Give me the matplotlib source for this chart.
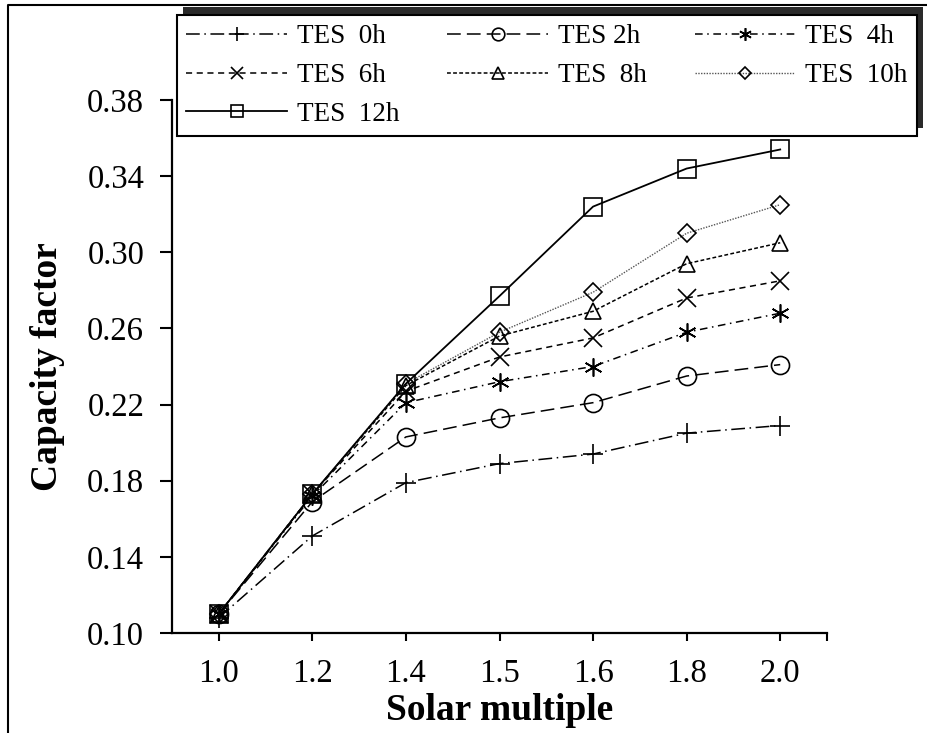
import numpy as np
import matplotlib
matplotlib.use("Agg")
import matplotlib.pyplot as plt
from matplotlib.lines import Line2D
from matplotlib.patches import Rectangle

plt.rcParams['font.family'] = ['Liberation Serif', 'DejaVu Serif']

# data
solar_multiple = ['1.0', '1.2', '1.4', '1.5', '1.6', '1.8', '2.0']
tes_0h = [0.108, 0.151, 0.179, 0.189, 0.194, 0.205, 0.209]
tes_2h = [0.110, 0.169, 0.203, 0.213, 0.221, 0.235, 0.241]
tes_4h = [0.110, 0.172, 0.221, 0.232, 0.240, 0.258, 0.268]
tes_6h = [0.110, 0.173, 0.227, 0.245, 0.255, 0.276, 0.285]
tes_8h = [0.110, 0.173, 0.230, 0.256, 0.269, 0.294, 0.305]
tes_10h = [0.110, 0.173, 0.231, 0.258, 0.279, 0.310, 0.325]
tes_12h = [0.110, 0.173, 0.231, 0.277, 0.324, 0.344, 0.354]
labels = ['TES  0h', 'TES 2h', 'TES  4h', 'TES  6h', 'TES  8h', 'TES  10h', 'TES  12h']
y_ticks = [0.10, 0.14, 0.18, 0.22, 0.26, 0.30, 0.34, 0.38]

series = [tes_0h, tes_2h, tes_4h, tes_6h, tes_8h, tes_10h, tes_12h]
styles = [
    dict(ls=(0, (9, 3, 1, 3)), marker='+', ms=14, color='black', lw=1.1),
    dict(ls=(0, (9, 4)), marker='o', ms=13, color='black', lw=1.1),
    dict(ls=(0, (5, 3, 1, 3)), marker=(6, 2, 0), ms=13, color='black', lw=1.1),
    dict(ls=(0, (4, 3)), marker='x', ms=13, color='black', lw=1.1),
    dict(ls=(0, (2.5, 1.5)), marker='^', ms=12, color='black', lw=1.1),
    dict(ls=(0, (1, 1)), marker='D', ms=9, color='#555555', lw=1.0, mec='black'),
    dict(ls='-', marker='s', ms=12.5, color='black', lw=1.3),
]

fig = plt.figure(figsize=(9.27, 7.33), dpi=100)
ax = fig.add_axes([172 / 927, 1 - 633 / 733, 655 / 927, 533 / 733])

x = np.arange(len(solar_multiple))
handles = []
for vals, st, lab in zip(series, styles, labels):
    h, = ax.plot(x, vals, label=lab, mfc='none', mew=1.2, **st)
    handles.append(h)

ax.set_xlim(-0.5, len(solar_multiple) - 0.5)
ax.set_ylim(0.10, 0.38)
ax.set_xticks(x)
ax.set_xticklabels(solar_multiple)
ax.set_xticks([len(solar_multiple) - 0.5], minor=True)
ax.set_yticks(y_ticks)
ax.set_yticklabels(['%.2f' % v for v in y_ticks])

for s in ['top', 'right']:
    ax.spines[s].set_visible(False)
for s in ['left', 'bottom']:
    ax.spines[s].set_linewidth(1.6)

ax.tick_params(axis='y', direction='out', length=9, width=1.5, labelsize=23.5, pad=11)
ax.tick_params(axis='x', which='both', direction='out', length=6, width=1.5, labelsize=23.5, pad=12)

ax.set_xlabel('Solar multiple', fontsize=27, fontweight='bold', labelpad=3)
ax.set_ylabel('Capacity factor', fontsize=27, fontweight='bold', labelpad=16)

# legend is filled row by row in the reference -> reorder for column filling
order = [0, 3, 6, 1, 4, 2, 5]
leg = fig.legend(handles=[handles[i] for i in order], loc='upper left', ncol=3,
                 bbox_to_anchor=(177 / 927, 1 - 15 / 733),
                 fontsize=19.5, handlelength=3.7, handletextpad=0.37,
                 columnspacing=1.78, markerscale=0.7,
                 borderaxespad=0, fancybox=False, framealpha=1,
                 edgecolor='black', labelspacing=0.5, borderpad=0.35)
leg.get_frame().set_linewidth(1.5)
leg.set_zorder(10)

fig.canvas.draw()
bb = leg.get_frame().get_window_extent()

# shadow shifted up and right
W, H = fig.bbox.width, fig.bbox.height
fig.add_artist(Rectangle(((bb.x0 + 6) / W, (bb.y0 + 8) / H), bb.width / W, bb.height / H,
                         transform=fig.transFigure, facecolor='#2a2a2a',
                         edgecolor='none', zorder=9))

# outer frame (top and left)
fig.add_artist(Line2D([8 / 927, 8 / 927, 1], [0, 1 - 5 / 733, 1 - 5 / 733],
                      transform=fig.transFigure, color='black', lw=1.5, zorder=8))

fig.savefig('out.png', dpi=100)
